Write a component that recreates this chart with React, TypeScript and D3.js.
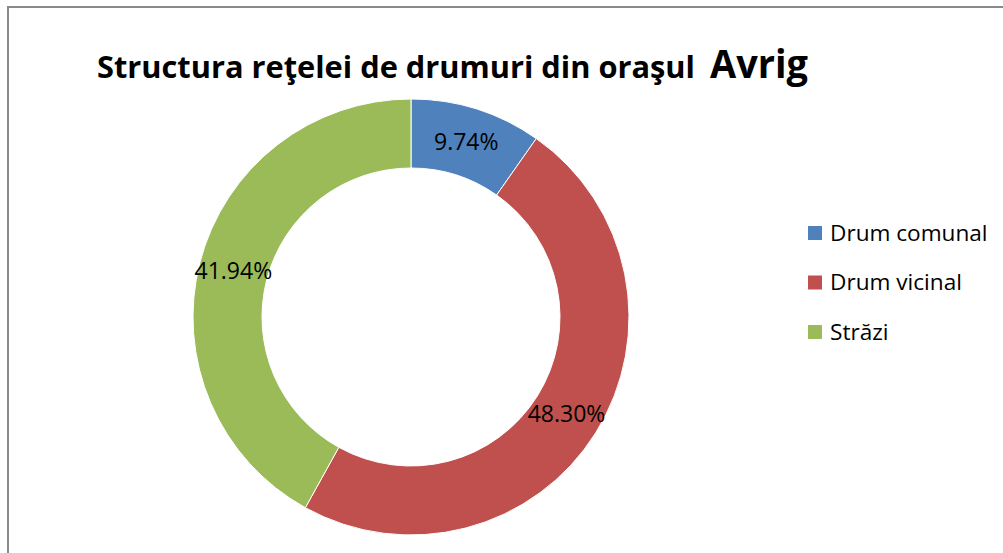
import React from "react";
import * as d3 from "d3";

const categories = ["Drum comunal", "Drum vicinal", "Străzi"];
const values = [9.74, 48.3, 41.94];
const labels = ["9.74%", "48.30%", "41.94%"];
const colors = ["#4F81BD", "#C0504D", "#9BBB59"];

const W = 1003;
const H = 553;
const font = "'Open Sans', Lato, sans-serif";

export default function App() {
  const cx = 411;
  const cy = 317;
  const outerR = 218;
  const innerR = 149;
  const pie = d3.pie<number>().sort(null).value((d) => d)(values);
  const arc = d3.arc<d3.PieArcDatum<number>>().innerRadius(innerR).outerRadius(outerR);
  const legendY = d3.scalePoint<string>().domain(categories).range([232, 331]);

  return (
    <svg
      width={W}
      height={H}
      style={{ position: "absolute", left: 0, top: 0, background: "#fff" }}
    >
      <rect x={8} y={7} width={1100} height={700} fill="#fff" stroke="#8a8a8a" strokeWidth={2} />
      <text x={97} y={78} fontFamily={font} fontWeight={700} fontSize={31} fill="#000"
        textLength={598} lengthAdjust="spacingAndGlyphs">
        Structura reţelei de drumuri din oraşul
      </text>
      <text x={710} y={78} fontFamily={font} fontWeight={700} fontSize={39} fill="#000"
        textLength={98} lengthAdjust="spacingAndGlyphs">
        Avrig
      </text>
      <g transform={`translate(${cx},${cy})`}>
        {pie.map((p, i) => (
          <path key={i} d={arc(p) || ""} fill={colors[i]} stroke="#fff" strokeWidth={1} />
        ))}
        {pie.map((p, i) => {
          const [x, y] = arc.centroid(p);
          return (
            <text key={"l" + i} x={x} y={y} dy="0.35em" textAnchor="middle"
              fontFamily={font} fontSize={23} fill="#000">
              {labels[i]}
            </text>
          );
        })}
      </g>
      {categories.map((c, i) => (
        <g key={c}>
          <rect x={808} y={(legendY(c) as number) - 6} width={14} height={14} fill={colors[i]} />
          <text x={830} y={(legendY(c) as number) + 1} dy="0.35em" fontFamily={font} fontSize={22.6} fill="#000">
            {c}
          </text>
        </g>
      ))}
    </svg>
  );
}
